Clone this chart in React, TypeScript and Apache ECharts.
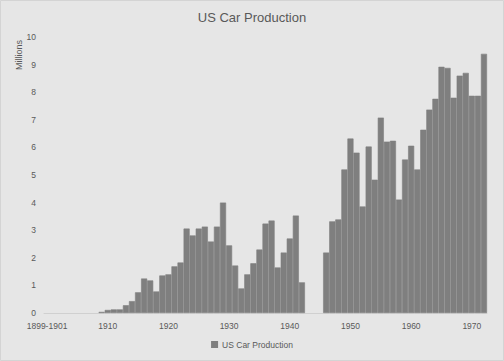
import React, { useEffect, useRef } from "react";
import * as echarts from "echarts";

const categories: string[] = [
  "1899-1901",
  "1901", "1902", "1903", "1904", "1905", "1906", "1907", "1908", "1909", "1910",
  "1911", "1912", "1913", "1914", "1915", "1916", "1917", "1918", "1919", "1920",
  "1921", "1922", "1923", "1924", "1925", "1926", "1927", "1928", "1929", "1930",
  "1931", "1932", "1933", "1934", "1935", "1936", "1937", "1938", "1939", "1940",
  "1941", "1942", "1943", "1944", "1945", "1946", "1947", "1948", "1949", "1950",
  "1951", "1952", "1953", "1954", "1955", "1956", "1957", "1958", "1959", "1960",
  "1961", "1962", "1963", "1964", "1965", "1966", "1967", "1968", "1969", "1970",
  "1971", "1972",
];

const production: number[] = [
  0,
  0, 0, 0, 0, 0, 0, 0, 0, 0.04, 0.11,
  0.13, 0.13, 0.28, 0.43, 0.75, 1.25, 1.18, 0.78, 1.36, 1.4,
  1.69, 1.83, 3.06, 2.81, 3.06, 3.13, 2.59, 3.13, 4.0, 2.45,
  1.72, 0.89, 1.4, 1.8, 2.3, 3.24, 3.35, 1.65, 2.19, 2.7,
  3.53, 1.11, 0, 0, 0, 2.19, 3.32, 3.39, 5.2, 6.32,
  5.81, 3.86, 6.03, 4.83, 7.08, 6.21, 6.24, 4.11, 5.56, 6.06,
  5.2, 6.64, 7.37, 7.76, 8.92, 8.88, 7.8, 8.6, 8.7, 7.87,
  7.87, 9.39,
];

const yTicks = { min: 0, max: 10, interval: 1 };

const FONT = "'Liberation Sans', 'DejaVu Sans', sans-serif";
const TEXT = "#595959";

export default function App() {
  const ref = useRef<HTMLDivElement>(null);
  useEffect(() => {
    if (!ref.current) return;
    const chart = echarts.init(ref.current, null, { renderer: "svg" });
    const barData = production.map((v) =>
      v === 0 ? { value: 0, itemStyle: { borderWidth: 0 } } : v
    );
    chart.setOption({
      animation: false,
      backgroundColor: "#e6e6e6",
      textStyle: { fontFamily: FONT },
      title: {
        text: "US Car Production",
        left: "center",
        top: 6,
        textStyle: { fontFamily: FONT, fontSize: 13, fontWeight: "normal", color: TEXT },
      },
      graphic: [
        {
          type: "text",
          x: 19,
          y: 55,
          rotation: Math.PI / 2,
          style: {
            text: "Millions",
            font: `9px ${FONT}`,
            fill: TEXT,
            align: "center",
            verticalAlign: "middle",
          },
        },
        {
          type: "rect",
          shape: { x: 0.5, y: 0.5, width: 503, height: 360 },
          style: { fill: "none", stroke: "#d4d4d4", lineWidth: 1 },
          silent: true,
        },
      ],
      legend: {
        data: ["US Car Production"],
        bottom: 7,
        left: "center",
        icon: "rect",
        itemWidth: 5,
        itemHeight: 5,
        itemGap: 4,
        textStyle: { fontFamily: FONT, fontSize: 8.5, color: TEXT },
      },
      grid: { left: 44, right: 17, top: 37, bottom: 48 },
      xAxis: {
        type: "category",
        data: categories,
        boundaryGap: true,
        axisLine: { show: true, lineStyle: { color: "#d0d0d0", width: 1 } },
        axisTick: { show: false },
        axisLabel: { interval: 9, color: TEXT, fontSize: 8.5, fontFamily: FONT, margin: 8 },
        splitLine: { show: false },
      },
      yAxis: {
        type: "value",
        min: yTicks.min,
        max: yTicks.max,
        interval: yTicks.interval,
        axisLine: { show: false },
        axisTick: { show: false },
        splitLine: { show: false },
        axisLabel: { color: TEXT, fontSize: 8.5, fontFamily: FONT, margin: 8 },
      },
      series: [
        {
          name: "US Car Production",
          type: "bar",
          data: barData,
          barCategoryGap: "0%",
          itemStyle: { color: "#7f7f7f", borderColor: "#7f7f7f", borderWidth: 0.6 },
        },
      ],
    });
    return () => chart.dispose();
  }, []);
  return (
    <div
      ref={ref}
      style={{ position: "fixed", left: 0, top: 0, width: 504, height: 361 }}
    />
  );
}
